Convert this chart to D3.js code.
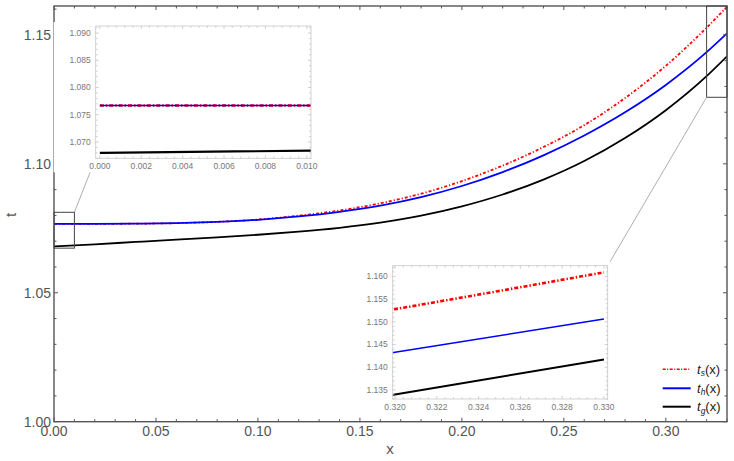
<html>
  <head>
    <script src="https://cdn.jsdelivr.net/npm/d3@7/dist/d3.min.js" charset="utf-8"></script>
    <style>
      body { margin: 0; background: #fff; }
      svg { display: block; }
      text { font-family: "Liberation Sans", Arial, sans-serif; }
    </style>
  </head>
  <body>
    <div id="main"></div>
  <script>
    // curves
    var xValues = [0, 0.02, 0.04, 0.06, 0.08, 0.10, 0.12, 0.14, 0.16, 0.18, 0.20, 0.22, 0.24, 0.26, 0.28, 0.30, 0.32, 0.33];
    var tS = [1.0767, 1.0767, 1.0768, 1.0770, 1.0775, 1.0784, 1.0799, 1.0819, 1.0847, 1.0884, 1.0933, 1.0993, 1.1065, 1.1150, 1.1255, 1.1380, 1.1528, 1.1609];
    var tH = [1.0767, 1.0767, 1.0768, 1.0770, 1.0775, 1.0783, 1.0796, 1.0814, 1.0838, 1.0871, 1.0914, 1.0968, 1.1033, 1.1110, 1.1200, 1.1306, 1.1433, 1.1506];
    var tG = [1.0680, 1.0688, 1.0697, 1.0706, 1.0715, 1.0725, 1.0737, 1.0752, 1.0772, 1.0799, 1.0835, 1.0881, 1.0939, 1.1011, 1.1100, 1.1208, 1.1340, 1.1417];
    var seriesSubs = ['s', 'h', 'g'];

    // tick labels
    var xTicks = [0, 0.05, 0.10, 0.15, 0.20, 0.25, 0.30];
    var yTicks = [1.00, 1.05, 1.10, 1.15];
    var inset1XTicks = [0, 0.002, 0.004, 0.006, 0.008, 0.010];
    var inset1YTicks = [1.070, 1.075, 1.080, 1.085, 1.090];
    var inset2XTicks = [0.320, 0.322, 0.324, 0.326, 0.328, 0.330];
    var inset2YTicks = [1.135, 1.140, 1.145, 1.150, 1.155, 1.160];

    var svgWidth = 734;
    var svgHeight = 461;

    var svg = d3.select('#main')
      .append('svg')
      .attr('width', svgWidth)
      .attr('height', svgHeight);

    var series = [tS, tH, tG].map(function(vals, i) {
      return { sub: seriesSubs[i], points: xValues.map(function(x, j) { return [x, vals[j]]; }) };
    });
    var colors = { s: '#ff0000', h: '#0000ff', g: '#000000' };

    // main plot area
    var x = d3.scaleLinear().domain([0, 0.33]).range([54, 727]);
    var y = d3.scaleLinear().domain([1.0, 1.1612]).range([421.7, 6]);

    svg.append('clipPath').attr('id', 'clipMain')
      .append('rect').attr('x', 54).attr('y', 6).attr('width', 673).attr('height', 415.7);

    function drawCurves(g, xs, ys, clipId, widths, dash) {
      var line = d3.line()
        .x(function(d) { return xs(d[0]); })
        .y(function(d) { return ys(d[1]); })
        .curve(d3.curveMonotoneX);
      g.append('g').attr('clip-path', 'url(#' + clipId + ')')
        .selectAll('path')
        .data(series)
        .enter()
        .append('path')
        .attr('d', function(d) { return line(d.points); })
        .attr('fill', 'none')
        .attr('stroke', function(d) { return colors[d.sub]; })
        .attr('stroke-width', function(d, i) { return widths[i]; })
        .attr('stroke-dasharray', function(d) { return d.sub === 's' ? dash : null; });
    }

    // ticks on all four sides, pointing inward
    function drawFrame(g, xs, ys, opts) {
      var x0 = xs.range()[0], x1 = xs.range()[1];
      var y0 = ys.range()[0], y1 = ys.range()[1];
      g.append('rect')
        .attr('x', x0).attr('y', y1).attr('width', x1 - x0).attr('height', y0 - y1)
        .attr('fill', opts.fill || 'none')
        .attr('stroke', opts.frameColor)
        .attr('stroke-width', opts.frameWidth);

      var ticks = g.append('g').attr('stroke', opts.tickColor).attr('stroke-width', opts.tickWidth);
      opts.xMinor.forEach(function(v) {
        var len = opts.xMajor.some(function(m) { return Math.abs(m - v) < 1e-9; }) ? opts.majorLen : opts.minorLen;
        ticks.append('line').attr('x1', xs(v)).attr('x2', xs(v)).attr('y1', y0).attr('y2', y0 - len);
        ticks.append('line').attr('x1', xs(v)).attr('x2', xs(v)).attr('y1', y1).attr('y2', y1 + len);
      });
      opts.yMinor.forEach(function(v) {
        var len = opts.yMajor.some(function(m) { return Math.abs(m - v) < 1e-9; }) ? opts.majorLen : opts.minorLen;
        ticks.append('line').attr('y1', ys(v)).attr('y2', ys(v)).attr('x1', x0).attr('x2', x0 + len);
        ticks.append('line').attr('y1', ys(v)).attr('y2', ys(v)).attr('x1', x1).attr('x2', x1 - len);
      });

      g.selectAll('text.xl')
        .data(opts.xMajor)
        .enter()
        .append('text')
        .attr('x', function(d) { return xs(d); })
        .attr('y', y0 + opts.xLabelDy)
        .attr('text-anchor', 'middle')
        .attr('font-size', opts.fontSize)
        .attr('fill', opts.labelColor)
        .text(function(d) { return d3.format(opts.xFmt)(d); });
      g.selectAll('text.yl')
        .data(opts.yMajor)
        .enter()
        .append('text')
        .attr('x', x0 - opts.yLabelDx)
        .attr('y', function(d) { return ys(d); })
        .attr('dy', '0.35em')
        .attr('text-anchor', 'end')
        .attr('font-size', opts.fontSize)
        .attr('fill', opts.labelColor)
        .text(function(d) { return d3.format(opts.yFmt)(d); });
    }

    function range(a, b, step) {
      return d3.range(Math.round((b - a) / step) + 1).map(function(i) { return +(a + i * step).toFixed(6); });
    }

    var main = svg.append('g');
    drawCurves(main, x, y, 'clipMain', [1.8, 1.8, 1.8], '3,2,1.2,2');
    drawFrame(main, x, y, {
      frameColor: '#555', frameWidth: 1.4, tickColor: '#555', tickWidth: 1,
      xMajor: xTicks, xMinor: range(0, 0.33, 0.01),
      yMajor: yTicks, yMinor: range(1.0, 1.16, 0.01),
      majorLen: 4, minorLen: 2.5,
      xLabelDy: 14, yLabelDx: 3, fontSize: 14, labelColor: '#555',
      xFmt: '.2f', yFmt: '.2f'
    });

    // axis titles
    svg.append('text').attr('x', 390).attr('y', 454).attr('text-anchor', 'middle')
      .attr('font-size', 15).attr('fill', '#555').text('x');
    svg.append('text').attr('transform', 'translate(16,215) rotate(-90)').attr('text-anchor', 'middle')
      .attr('font-size', 15).attr('fill', '#555').text('t');

    // zoom boxes on the main plot and their connectors
    var box1 = { x: [0, 0.01], y: [1.0673, 1.0812] };
    var box2 = { x: [0.32, 0.33], y: [1.1258, 1.1612] };
    [box1, box2].forEach(function(b) {
      svg.append('rect')
        .attr('x', x(b.x[0])).attr('y', y(b.y[1]))
        .attr('width', x(b.x[1]) - x(b.x[0])).attr('height', y(b.y[0]) - y(b.y[1]))
        .attr('fill', 'none').attr('stroke', '#444').attr('stroke-width', 1);
    });

    // inset 1 (left top)
    var ix1 = d3.scaleLinear().domain([-0.0002, 0.0102]).range([95.7, 311]);
    var iy1 = d3.scaleLinear().domain([1.0670, 1.0913]).range([158.3, 26]);
    // inset 2 (bottom right)
    var ix2 = d3.scaleLinear().domain([0.31989, 0.33018]).range([392.7, 607.7]);
    var iy2 = d3.scaleLinear().domain([1.1330, 1.16236]).range([399, 265.7]);

    svg.append('line').attr('x1', x(box1.x[1])).attr('y1', y(box1.y[1]))
      .attr('x2', 94.5).attr('y2', 161).attr('stroke', '#999').attr('stroke-width', 0.8);
    svg.append('line').attr('x1', x(box2.x[0])).attr('y1', y(box2.y[0]))
      .attr('x2', 607.7).attr('y2', 265.7).attr('stroke', '#999').attr('stroke-width', 0.8);

    [[ix1, iy1, 'clipI1', [2.4, 1.6, 2.2], inset1XTicks, range(0, 0.010, 0.0004), inset1YTicks, range(1.067, 1.091, 0.001)],
     [ix2, iy2, 'clipI2', [2.6, 1.5, 2], inset2XTicks, range(0.320, 0.330, 0.0004), inset2YTicks, range(1.133, 1.162, 0.001)]]
      .forEach(function(p) {
        var xs = p[0], ys = p[1];
        var g = svg.append('g');
        g.append('rect')
          .attr('x', xs.range()[0] - 42).attr('y', ys.range()[1] - 4)
          .attr('width', xs.range()[1] - xs.range()[0] + 46).attr('height', ys.range()[0] - ys.range()[1] + 18)
          .attr('fill', '#fff');
        svg.append('clipPath').attr('id', p[2])
          .append('rect').attr('x', xs.range()[0]).attr('y', ys.range()[1])
          .attr('width', xs.range()[1] - xs.range()[0]).attr('height', ys.range()[0] - ys.range()[1]);
        drawCurves(g, xs, ys, p[2], p[3], '4,2,1.4,2');
        drawFrame(g, xs, ys, {
          frameColor: '#c8c8c8', frameWidth: 0.8, tickColor: '#bbb', tickWidth: 0.7,
          xMajor: p[4], xMinor: p[5], yMajor: p[6], yMinor: p[7],
          majorLen: 3, minorLen: 1.8,
          xLabelDy: 11, yLabelDx: 5, fontSize: 8.5, labelColor: '#777',
          xFmt: '.3f', yFmt: '.3f'
        });
      });

    // legend
    var legend = svg.append('g');
    var legendY = [369.3, 388.3, 406.7];
    series.forEach(function(s, i) {
      legend.append('line')
        .attr('x1', 662.7).attr('x2', 690.7).attr('y1', legendY[i]).attr('y2', legendY[i])
        .attr('stroke', colors[s.sub]).attr('stroke-width', s.sub === 's' ? 1.4 : 2)
        .attr('stroke-dasharray', s.sub === 's' ? '3,1.5,1,1.5' : null);
      var t = legend.append('text')
        .attr('x', 697).attr('y', legendY[i] + 4.5)
        .attr('font-size', 13).attr('fill', '#222');
      t.append('tspan').attr('font-style', 'italic').text('t');
      t.append('tspan').attr('font-style', 'italic').attr('font-size', 8.5).attr('dy', 2.5).text(s.sub);
      t.append('tspan').attr('dy', -2.5).text('(x)');
    });
  </script>
  </body>
</html>
